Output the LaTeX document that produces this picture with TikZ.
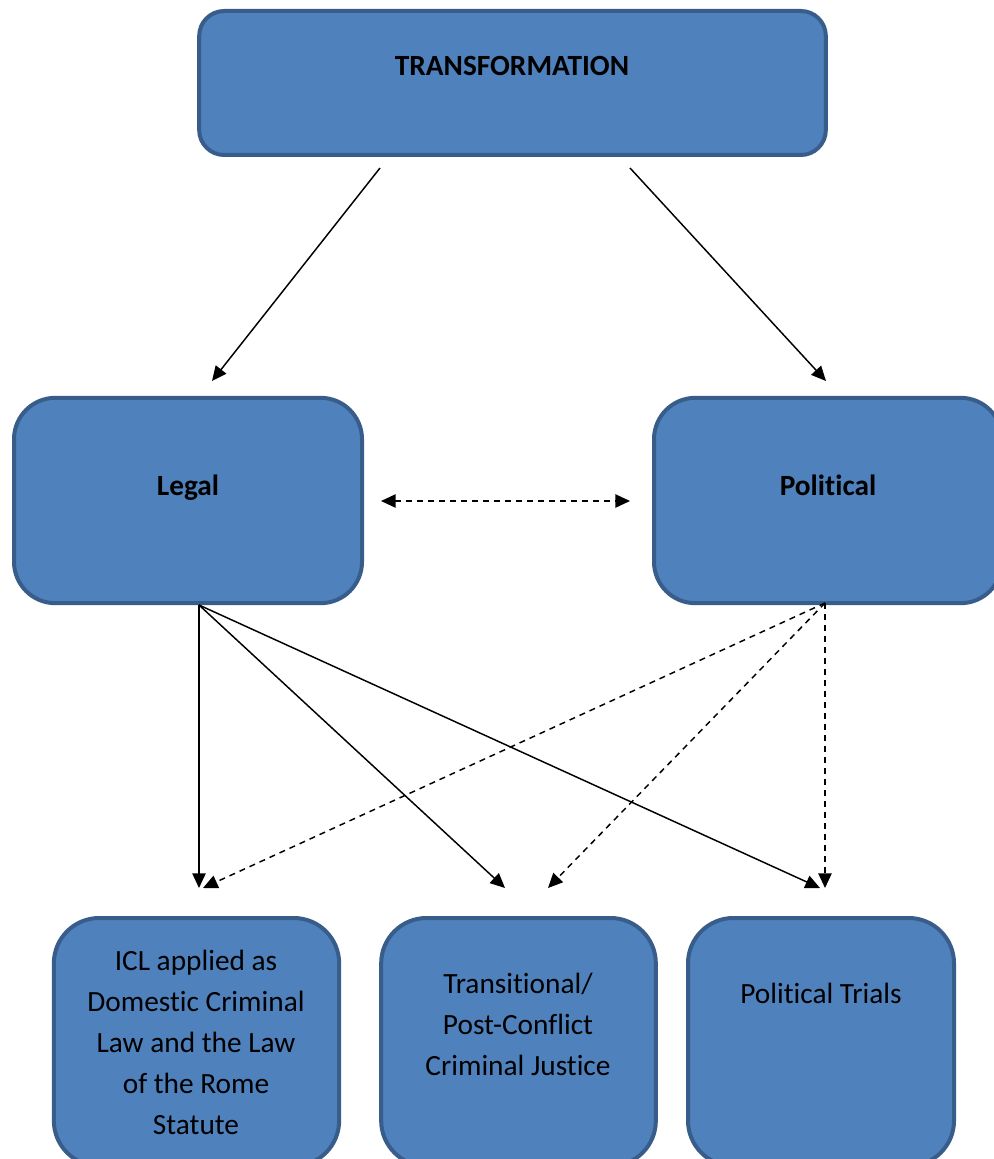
\documentclass[tikz,border=0pt]{standalone}
\usepackage{fontspec}
\setmainfont{Carlito}[Ligatures={NoCommon}, RawFeature={-liga;-clig}]
\usetikzlibrary{arrows.meta}

\definecolor{boxfill}{HTML}{4F81BD}
\definecolor{boxline}{HTML}{385D8A}

\tikzset{
  box/.style={draw=boxline, fill=boxfill, line width=3pt, inner sep=0pt},
  txt/.style={align=center, font=\fontsize{22}{30.75}\selectfont},
  head/.style={anchor=base, font=\fontsize{22}{30.75}\selectfont\bfseries},
  conn/.style={line width=1.1pt, -{Triangle[length=11pt,width=10pt]}},
  dconn/.style={conn, dash pattern=on 4.5pt off 3.75pt}
}

\begin{document}
\begin{tikzpicture}[x=0.75pt, y=-0.75pt]
	\useasboundingbox (0,0) rectangle (994,1159);

	\node[box, rounded corners=18.75pt, minimum width=470pt, minimum height=108pt] (trans) at (512.5,83) {};
	\node[box, rounded corners=31pt, minimum width=261pt, minimum height=154pt] (legal) at (188,500.5) {};
	\node[box, rounded corners=31pt, minimum width=261pt, minimum height=154pt] (polit) at (828,500.5) {};
	\node[box, rounded corners=34pt, minimum width=214pt, minimum height=186pt] (icl) at (196.5,1042) {};
	\node[box, rounded corners=34pt, minimum width=206pt, minimum height=186pt] (transit) at (518.5,1042) {};
	\node[box, rounded corners=34pt, minimum width=199.5pt, minimum height=186pt] (trials) at (821,1042) {};

	\node[head] (transtxt) at (512,76) {TRANSFORMATION};
	\node[head] (legaltxt) at (188,495) {Legal};
	\node[head] (polittxt) at (828,495) {Political};
	\node[txt] (icltxt) at (196,1042) {ICL applied as\\Domestic Criminal\\Law and the Law\\of the Rome\\Statute};
	\node[txt] (transittxt) at (518,1024) {Transitional/\\Post-Conflict\\Criminal Justice};
	\node[txt] (trialstxt) at (821,993) {Political Trials};

	% arrow ends
	\coordinate (tl) at (380,168);
	\coordinate (tr) at (630,168);
	\coordinate (lin) at (212,381);
	\coordinate (pin) at (826,381);
	\coordinate (lside) at (381,501);
	\coordinate (pside) at (630,501);
	\coordinate (lout) at (199,605);
	\coordinate (pout) at (825,603);
	\coordinate (iclin) at (199,888);
	\coordinate (iclinb) at (203,888);
	\coordinate (transin) at (505,888);
	\coordinate (transinb) at (548,888);
	\coordinate (trialsin) at (820,888);
	\coordinate (trialsinb) at (825,888);

	\draw[conn] (tl) -- (lin);
	\draw[conn] (tr) -- (pin);
	\draw[dconn, {Triangle[length=11pt,width=10pt]}-{Triangle[length=11pt,width=10pt]}] (lside) -- (pside);

	\draw[conn] (lout) -- (iclin);
	\draw[conn] (lout) -- (transin);
	\draw[conn] (lout) -- (trialsin);
	\draw[dconn] (pout) -- (iclinb);
	\draw[dconn] (pout) -- (transinb);
	\draw[dconn] (pout) -- (trialsinb);
\end{tikzpicture}
\end{document}
